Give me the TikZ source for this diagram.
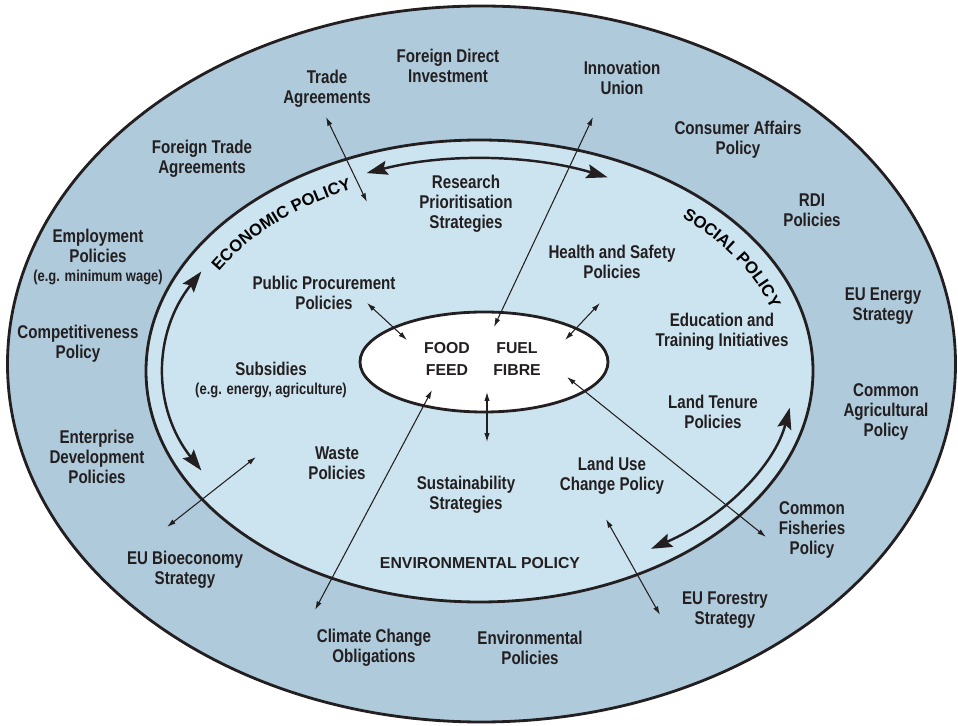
\documentclass[tikz,border=0pt]{standalone}
\usepackage{fontspec}
\usetikzlibrary{arrows.meta,decorations.text}
\newfontfamily\condfont{Liberation Sans}[FakeStretch=0.82]
\newfontfamily\capsfont{Liberation Sans}
\definecolor{ringout}{RGB}{174,202,219}
\definecolor{ringin}{RGB}{204,228,239}
\definecolor{ink}{RGB}{35,31,32}
\newcommand{\eg}[1]{{\fontsize{9}{10}\selectfont #1}}

\tikzset{
  policy/.style={font=\condfont\bfseries\fontsize{10.5}{11.3}\selectfont, align=center, text=ink, inner sep=0pt},
  product/.style={font=\capsfont\bfseries\fontsize{9}{12.4}\selectfont, align=center, text=ink, inner sep=0pt},
  area/.style={font=\capsfont\bfseries\fontsize{9}{10}\selectfont, text=ink, inner sep=0pt},
  link/.style={>={Latex[length=5pt,width=3pt]}, <->, draw=ink, line width=0.6pt},
  turn/.style={>={Stealth[length=12pt,width=8pt,inset=2pt]}, <->, draw=ink, line width=1.4pt},
  ring/.style={draw=ink, line width=1.6pt},
}

\begin{document}
\begin{tikzpicture}[x=0.02cm, y=-0.02cm]
\useasboundingbox (0,0) rectangle (958,726);
\coordinate (out) at (481.5,364);
\coordinate (mid) at (479.5,371);
\coordinate (core) at (484,362);

\draw[ring, fill=ringout] (out) ellipse [x radius=474, y radius=358];
\draw[ring, fill=ringin] (mid) ellipse [x radius=333.5, y radius=231];

\draw[turn] (mid) ++(-111:315 and 212) arc[start angle=-111, end angle=-66, x radius=315, y radius=212];
\draw[turn] (mid) ++(-152:315 and 212) arc[start angle=-152, end angle=-208, x radius=315, y radius=212];
\draw[turn] (mid) ++(57:315 and 212) arc[start angle=57, end angle=10, x radius=315, y radius=212];

\path[decorate, decoration={text along path, text align=center,
  text={|\capsfont\bfseries\fontsize{9.5}{10}\selectfont|ECONOMIC POLICY}}]
  (mid) ++(-168:300 and 201) arc[start angle=-168, end angle=-102, x radius=300, y radius=201];
\path[decorate, decoration={text along path, text align=center,
  text={|\capsfont\bfseries\fontsize{9.5}{10}\selectfont|SOCIAL POLICY}}]
  (mid) ++(-56:306 and 205) arc[start angle=-56, end angle=-8, x radius=306, y radius=205];
\node[area] (envpol) at (480,563) {ENVIRONMENTAL POLICY};

\coordinate (tradeA) at (326,117);
\coordinate (tradeB) at (367,202);
\coordinate (innoA) at (593,117);
\coordinate (innoB) at (494,327);
\coordinate (procA) at (367,303);
\coordinate (procB) at (407,340);
\coordinate (safeA) at (600,303);
\coordinate (safeB) at (565,340);
\coordinate (fishA) at (567,377);
\coordinate (fishB) at (766,537);
\coordinate (sustA) at (487,392);
\coordinate (sustB) at (487,442);
\coordinate (climA) at (432,390);
\coordinate (climB) at (315,610);
\coordinate (bioA) at (256,457);
\coordinate (bioB) at (167,527);
\coordinate (forA) at (606,519);
\coordinate (forB) at (660,615);

\draw[ring, fill=white] (core) ellipse [x radius=124, y radius=50];

\draw[link] (tradeA) -- (tradeB);
\draw[link] (innoA) -- (innoB);
\draw[link] (procA) -- (procB);
\draw[link] (safeA) -- (safeB);
\draw[link] (fishA) -- (fishB);
\draw[link] (sustA) -- (sustB);
\draw[link] (climA) -- (climB);
\draw[link] (bioA) -- (bioB);
\draw[link] (forA) -- (forB);

\node[product] (foodfeed) at (447,359) {FOOD\\FEED};
\node[product] (fuelfibre) at (517,359) {FUEL\\FIBRE};

\node[policy] (fdi) at (448,66) {Foreign Direct\\Investment};
\node[policy] (trade) at (327,89) {Trade\\Agreements};
\node[policy] (innov) at (622,78) {Innovation\\Union};
\node[policy] (ftrade) at (202,159) {Foreign Trade\\Agreements};
\node[policy] (consumer) at (738,140) {Consumer Affairs\\Policy};
\node[policy] (rdi) at (812,210) {RDI\\Policies};
\node[policy] (employ) at (98,257) {Employment\\Policies\\\eg{(e.g. minimum wage)}};
\node[policy] (compet) at (78,344) {Competitiveness\\Policy};
\node[policy] (energy) at (883,306) {EU Energy\\Strategy};
\node[policy] (cap) at (886,412) {Common\\Agricultural\\Policy};
\node[policy] (enterp) at (97,457) {Enterprise\\Development\\Policies};
\node[policy] (cfp) at (812,530) {Common\\Fisheries\\Policy};
\node[policy] (bioecon) at (185,570) {EU Bioeconomy\\Strategy};
\node[policy] (forestry) at (725,610) {EU Forestry\\Strategy};
\node[policy] (climate) at (374,648) {Climate Change\\Obligations};
\node[policy] (environ) at (530,648) {Environmental\\Policies};

\node[policy] (research) at (466,204) {Research\\Prioritisation\\Strategies};
\node[policy] (health) at (612,262) {Health and Safety\\Policies};
\node[policy] (procure) at (324,293) {Public Procurement\\Policies};
\node[policy] (educ) at (722,332) {Education and\\Training Initiatives};
\node[policy] (subsid) at (271,380) {Subsidies\\\eg{(e.g. energy, agriculture)}};
\node[policy] (tenure) at (713,412) {Land Tenure\\Policies};
\node[policy] (waste) at (337,463) {Waste\\Policies};
\node[policy] (landuse) at (612,476) {Land Use\\Change Policy};
\node[policy] (sustain) at (466,495) {Sustainability\\Strategies};
\end{tikzpicture}
\end{document}
